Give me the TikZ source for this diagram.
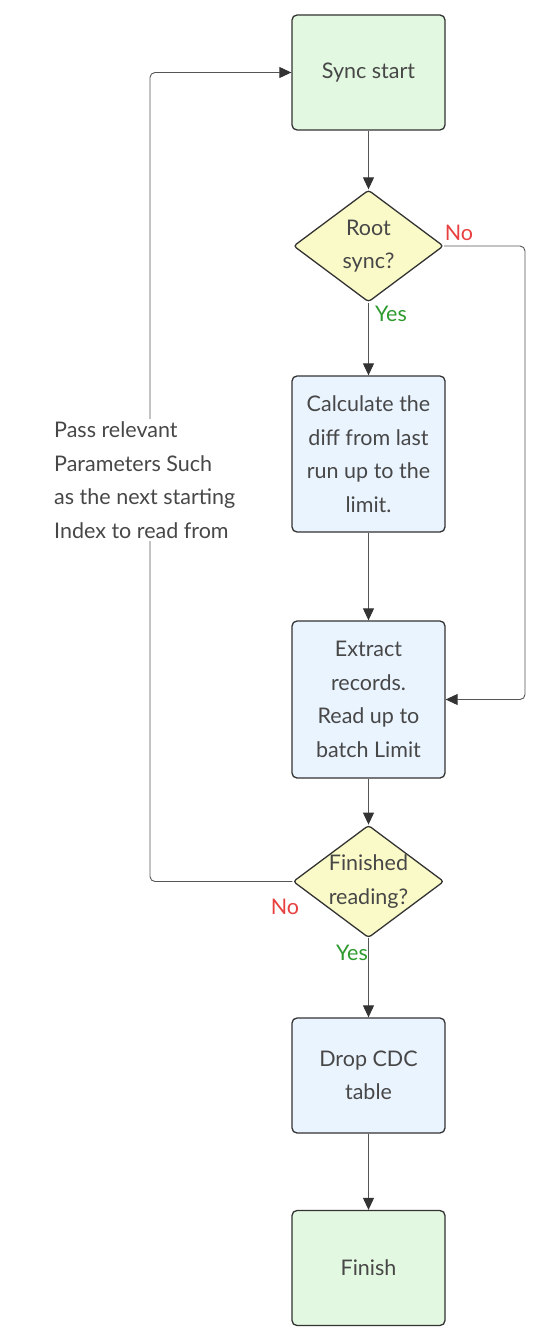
\documentclass[tikz,border=0pt]{standalone}
\usepackage{fontspec}
\setmainfont{Lato}
\usetikzlibrary{shapes.geometric,arrows.meta}
\definecolor{boxgreen}{HTML}{E2F8E0}
\definecolor{boxblue}{HTML}{EAF4FF}
\definecolor{boxyellow}{HTML}{FAFAC8}
\definecolor{edgec}{HTML}{555555}
\definecolor{borderc}{HTML}{333333}
\definecolor{txt}{HTML}{474747}
\definecolor{nored}{HTML}{E8403F}
\definecolor{yesgreen}{HTML}{2E9A2E}
\tikzset{
  base/.style={draw=borderc, line width=1.3pt, text=txt, align=center, inner sep=0pt,
    font=\fontsize{21.5}{33.5}\selectfont},
  procbox/.style={base, rectangle, rounded corners=5pt, minimum width=153pt},
  greenbox/.style={procbox, fill=boxgreen, minimum height=115pt},
  bluebox/.style={procbox, fill=boxblue},
  decision/.style={base, diamond, aspect=1.34, fill=boxyellow, minimum width=150pt, minimum height=112pt, rounded corners=3pt},
  conn/.style={draw=edgec, line width=0.9pt, rounded corners=5pt, -{Triangle[length=12pt,width=11pt,fill=borderc,color=borderc]}},
  lbl/.style={font=\fontsize{21.5}{24}\selectfont, inner sep=0pt},
}
\begin{document}
\begin{tikzpicture}[x=1pt,y=-1pt]
\useasboundingbox (0,0) rectangle (550,1340);
\node[greenbox] (start) at (368.5,72.5) {Sync start};
\node[decision] (root) at (368.5,246) {Root\\sync?};
\node[bluebox, minimum height=156pt] (calc) at (368.5,454) {Calculate the\\diff from last\\run up to the\\limit.};
\node[bluebox, minimum height=157pt] (extract) at (368.5,699.5) {Extract\\records.\\Read up to\\batch Limit};
\node[decision] (fin) at (368.5,881.5) {Finished\\reading?};
\node[bluebox, minimum height=115pt] (drop) at (368.5,1075.5) {Drop CDC\\table};
\node[greenbox] (finish) at (368.5,1268) {Finish};

\coordinate (rn) at (525,246);
\coordinate (rs) at (525,699.5);
\coordinate (lb) at (150,881.5);
\coordinate (lt) at (150,72.5);

\draw[conn] (start) -- (root);
\draw[conn] (root) -- (calc);
\draw[conn] (calc) -- (extract);
\draw[conn] (extract) -- (fin);
\draw[conn] (fin) -- (drop);
\draw[conn] (drop) -- (finish);
\draw[conn] (root.east) -- (rn) -- (rs) -- (extract.east);
\draw[conn] (fin.west) -- (lb) -- (lt) -- (start.west);

\node[lbl, text=nored] (no1) at (459,233) {No};
\node[lbl, text=yesgreen] (yes1) at (391,314) {Yes};
\node[lbl, text=nored] (no2) at (285,907) {No};
\node[lbl, text=yesgreen] (yes2) at (352,953) {Yes};

\node[fill=white, text=txt, align=left, inner sep=3pt, anchor=west, font=\fontsize{21.5}{33.5}\selectfont] (passlbl) at (51,480)
  {Pass relevant\\Parameters Such\\as the next starting\\Index to read from};
\end{tikzpicture}
\end{document}
